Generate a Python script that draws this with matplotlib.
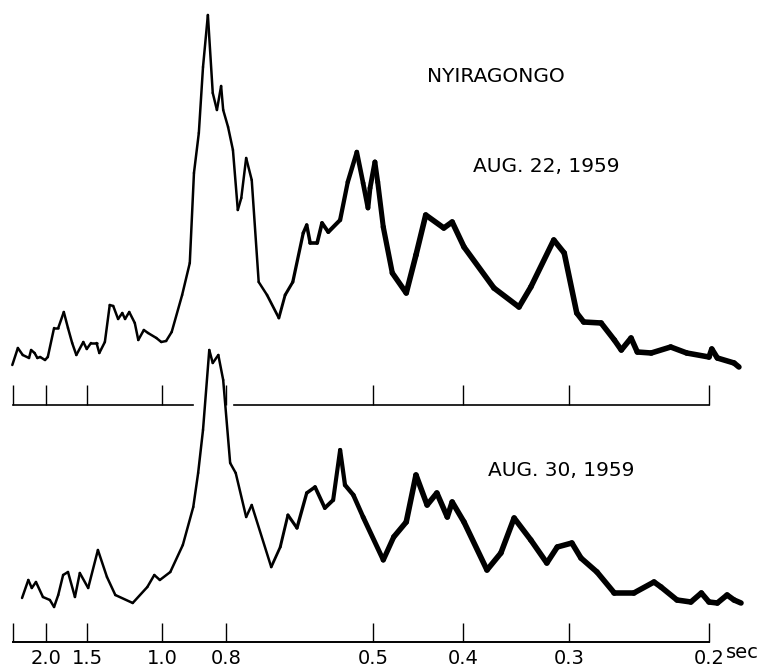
import matplotlib.pyplot as plt
from matplotlib.collections import LineCollection
import numpy as np

# distance along the period axis (0 = left end, 100 = 0.2 sec tick)
tick_pos = [4.7, 10.7, 21.4, 30.6, 51.7, 64.7, 79.9, 100.0]
tick_labels = ["2.0", "1.5", "1.0", "0.8", "0.5", "0.4", "0.3", "0.2"]

# Aug. 22, 1959 spectrum (relative amplitude)
x_aug22 = [-0.1, 0.7, 1.4, 2.3, 2.6, 3.1, 3.5, 3.9, 4.6, 5.0, 5.9, 6.5, 7.3, 7.9,
           8.5, 9.1, 10.1, 10.6, 11.2, 12.0, 12.4, 13.2, 13.9, 14.4, 15.1, 15.7,
           16.1, 16.7, 17.5, 18.0, 18.8, 19.4, 20.6, 21.3, 22.0, 22.8, 24.3, 25.4,
           26.0, 26.7, 27.3, 28.0, 28.7, 29.3, 29.9, 30.2, 30.9, 31.6, 32.3, 32.8,
           33.5, 34.3, 35.3, 36.5, 38.2, 39.1, 40.2, 41.7, 42.2, 42.7, 43.7, 44.4,
           45.3, 47.0, 48.1, 49.4, 50.3, 51.0, 51.3, 52.0, 52.4, 53.2, 54.5,
           56.5, 57.9, 59.3, 61.9, 63.1, 64.8, 69.1, 72.7, 74.4, 77.7, 79.2, 81.0,
           82.0, 84.5, 86.4, 87.4, 88.8, 89.7, 91.7, 94.5, 96.8, 100.0, 100.4,
           101.2, 103.6, 104.3]
y_aug22 = [10.0, 14.25, 12.5, 11.75, 13.75, 13.0, 11.75, 12.0, 11.25, 12.0, 19.25,
           19.25, 23.25, 19.25, 15.5, 12.5, 15.75, 14.0, 15.5, 15.5, 13.0, 15.75,
           25.0, 24.75, 21.5, 23.0, 21.5, 23.25, 20.5, 16.25, 18.75, 18.0, 16.75,
           15.75, 16.0, 18.25, 27.5, 35.5, 58.0, 68.0, 84.5, 97.5, 78.0, 73.75,
           79.75, 73.75, 69.5, 63.75, 48.75, 51.75, 61.75, 56.25, 30.75, 27.5, 21.75,
           27.5, 30.75, 43.0, 45.0, 40.5, 40.5, 45.5, 43.25, 46.25, 55.75, 63.25,
           55.5, 49.25, 54.25, 60.75, 55.75, 44.5, 33.0, 28.0, 37.5, 47.5,
           44.25, 45.75, 39.5, 29.25, 24.5, 29.5, 41.25, 38.0, 23.0, 20.75, 20.5,
           16.25, 13.75, 16.75, 13.25, 13.0, 14.5, 13.0, 12.0, 14.0, 11.75, 10.5, 9.5]

# Aug. 30, 1959 spectrum (relative amplitude)
x_aug30 = [1.3, 2.2, 2.7, 3.3, 4.3, 5.3, 5.9, 6.5, 7.2, 7.9, 8.9, 9.6, 10.8, 12.2,
           13.5, 14.7, 17.2, 19.3, 20.3, 21.1, 22.6, 24.4, 25.9, 26.6, 27.3, 28.2,
           28.7, 29.5, 30.2, 31.2, 32.0, 33.5, 34.3, 37.1, 38.4, 39.5, 40.8, 42.2,
           43.4, 44.8, 46.0, 47.0, 47.7, 48.9, 50.3, 53.2, 54.7, 56.5, 57.9, 59.5,
           60.9, 62.4, 63.1, 64.8, 68.1, 70.1, 72.0, 74.4, 76.7, 78.2, 80.3, 81.6,
           83.9, 86.4, 89.2, 92.1, 93.1, 95.4, 97.4, 98.9, 100.0, 101.2, 102.6,
           103.6, 104.6]
y_aug30 = [11.0, 15.5, 13.5, 15.0, 11.25, 10.5, 8.75, 11.75, 16.75, 17.5, 11.25,
           17.25, 13.5, 23.0, 16.25, 11.75, 9.75, 13.75, 16.75, 15.5, 17.5, 24.25,
           33.75, 42.25, 53.0, 73.0, 69.75, 71.75, 65.5, 44.75, 42.25, 31.25, 34.25,
           18.75, 23.75, 31.75, 28.5, 37.25, 38.75, 33.5, 35.5, 48.0, 39.25, 36.75,
           31.25, 20.5, 26.25, 30.0, 41.75, 34.25, 37.25, 31.25, 35.0, 30.0, 18.0,
           22.25, 31.0, 25.5, 19.75, 23.75, 24.75, 21.0, 17.5, 12.25, 12.25, 15.0,
           13.75, 10.5, 10.0, 12.25, 10.0, 9.75, 11.75, 10.5, 9.75]

fig = plt.figure(figsize=(7.68, 6.68), dpi=100)
xlim = (-13 / 6.96, 755 / 6.96)
ax_top = fig.add_axes([0, 0, 1, 1])
ax_bot = fig.add_axes([0, 0, 1, 1])
ax_top.set_ylim(-65.75, 101.25)
ax_bot.set_ylim(-6.5, 160.5)
for ax in (ax_top, ax_bot):
    ax.set_xlim(*xlim)
    ax.axis("off")
    ax.patch.set_alpha(0)

ink = "black"


def draw_curve(ax, x, y):
    # the trace gets heavier (noisier) toward short periods
    pts = np.column_stack([x, y]).reshape(-1, 1, 2)
    segs = np.concatenate([pts[:-1], pts[1:]], axis=1)
    mid = (np.array(x[:-1]) + np.array(x[1:])) / 2
    widths = np.interp(mid, [36, 56], [1.8, 4.0])
    lc = LineCollection(segs, colors=ink, linewidths=widths, capstyle="round",
                        joinstyle="round")
    ax.add_collection(lc)


draw_curve(ax_top, x_aug22, y_aug22)
draw_curve(ax_bot, x_aug30, y_aug30)

# top scale line, broken where the lower peak passes through
ax_top.plot([0, 25.8], [0, 0], color=ink, lw=1.2)
ax_top.plot([31.75, 100], [0, 0], color=ink, lw=1.2)
ax_top.vlines([0] + tick_pos, 0, 5, color=ink, lw=1.0)

# bottom scale line
ax_bot.plot([0, 100], [0, 0], color=ink, lw=1.4)
ax_bot.vlines([0] + tick_pos, 0, 4.75, color=ink, lw=1.0)
for p, lab in zip(tick_pos, tick_labels):
    ax_bot.text(p, -4.1, lab, ha="center", va="center", fontsize=14, color=ink)
ax_bot.text(102.4, -2.6, "sec", ha="left", va="center", fontsize=14, color=ink)

ax_top.text(59.5, 82, "NYIRAGONGO", ha="left", va="center", fontsize=14.5, color=ink)
ax_top.text(66.1, 59.75, "AUG. 22, 1959", ha="left", va="center", fontsize=14.5, color=ink)
ax_bot.text(68.2, 42.75, "AUG. 30, 1959", ha="left", va="center", fontsize=14.5, color=ink)

fig.savefig("out.png", dpi=100)
